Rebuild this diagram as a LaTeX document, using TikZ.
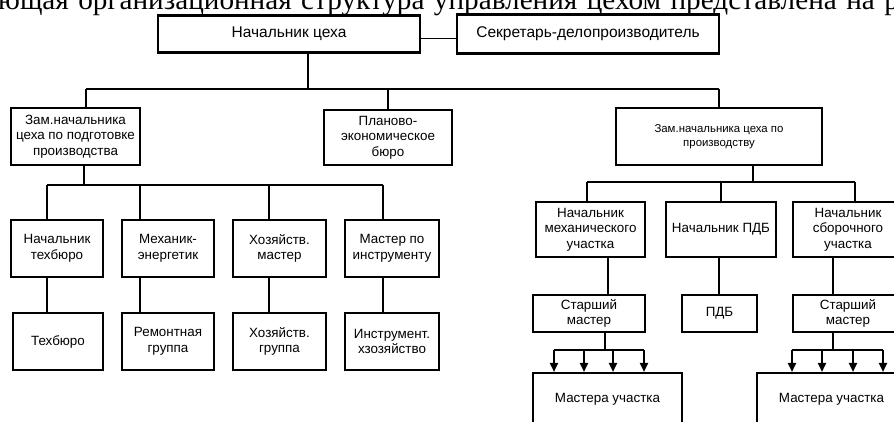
\documentclass[tikz,border=0pt]{standalone}
\usepackage{fontspec}
\setmainfont{Liberation Sans}
\newfontfamily\pagefont{Liberation Serif}
\usetikzlibrary{arrows.meta}

\begin{document}
\begin{tikzpicture}[x=1pt, y=-1pt,
  box/.style={draw, line width=2.1pt, align=center, inner sep=0pt,
    font=\fontsize{13.4}{15.5}\selectfont},
  bigbox/.style={box, font=\fontsize{15.5}{17}\selectfont},
  smallbox/.style={box, font=\fontsize{11.4}{14}\selectfont},
  link/.style={line width=1.9pt},
  down/.style={line width=1.9pt, -{Triangle[width=8pt,length=9pt]}}]
\useasboundingbox (0,0) rectangle (894,421);
\node[font=\pagefont\fontsize{29.2}{31}\selectfont, anchor=base west, inner sep=0pt] (line) at (-2,9.5) {\spaceskip=9.5pt\relax ющая организационная структура управления цехом представлена на рис};
% top level
\node[bigbox, minimum width=262pt, minimum height=37pt] (nach) at (289,34) {Начальник цеха};
\node[bigbox, minimum width=262pt, minimum height=39pt] (sekr) at (588,34) {Секретарь-делопроизводитель};
\node[box, minimum width=129pt, minimum height=57pt] (zpodg) at (75.5,136.5) {Зам.начальника\\цеха по подготовке\\производства};
\node[box, minimum width=128pt, minimum height=55pt] (plan) at (388,137.5) {Планово-\\экономическое\\бюро};
\node[smallbox, minimum width=206pt, minimum height=57pt] (zproiz) at (719,136.5) {Зам.начальника цеха по\\производству};
% left branch
\node[box, minimum width=92pt, minimum height=57pt] (ntb) at (57,248.5) {Начальник\\техбюро};
\node[box, minimum width=92pt, minimum height=57pt] (meh) at (168,248.5) {Механик-\\энергетик};
\node[box, minimum width=93pt, minimum height=57pt] (hozm) at (279.5,248.5) {Хозяйств.\\мастер};
\node[box, minimum width=94pt, minimum height=57pt] (minstr) at (392,248.5) {Мастер по\\инструменту};
\node[box, minimum width=90pt, minimum height=57pt] (tb) at (58,341.5) {Техбюро};
\node[box, minimum width=92pt, minimum height=57pt] (rem) at (168,341.5) {Ремонтная\\группа};
\node[box, minimum width=93pt, minimum height=57pt] (hozg) at (279.5,341.5) {Хозяйств.\\группа};
\node[box, minimum width=94pt, minimum height=57pt] (instr) at (392,341.5) {Инструмент.\\хзозяйство};
% right branch
\node[box, minimum width=109pt, minimum height=55pt] (nmeh) at (590.5,229.5) {Начальник\\механического\\участка};
\node[box, minimum width=110pt, minimum height=55pt] (npdb) at (721,229.5) {Начальник ПДБ};
\node[box, minimum width=110pt, minimum height=55pt] (nsb) at (848,229.5) {Начальник\\сборочного\\участка};
\node[box, minimum width=112pt, minimum height=37pt] (stm1) at (589,313.5) {Старший\\мастер};
\node[box, minimum width=75pt, minimum height=37pt] (pdb) at (719.5,313.5) {ПДБ};
\node[box, minimum width=110pt, minimum height=37pt] (stm2) at (848,313.5) {Старший\\мастер};
\node[box, minimum width=149pt, minimum height=52pt] (mast1) at (607.5,399) {Мастера участка};
\node[box, minimum width=149pt, minimum height=52pt] (mast2) at (831.5,399) {Мастера участка};
% bus points
\coordinate (t0) at (308,89);
\coordinate (t1) at (86,89);
\coordinate (t2) at (719,89);
\coordinate (u0) at (84,185);
\coordinate (u1) at (47,185);
\coordinate (u2) at (140,185);
\coordinate (u3) at (269,185);
\coordinate (u4) at (383,185);
\coordinate (v0) at (753,182);
\coordinate (v1) at (587,182);
\coordinate (v2) at (855,182);
\coordinate (w0) at (605,350);
\coordinate (w1) at (554,350);
\coordinate (w2) at (584,350);
\coordinate (w3) at (613,350);
\coordinate (w4) at (644,350);
\coordinate (z0) at (833,350);
\coordinate (z1) at (792,350);
\coordinate (z2) at (822,350);
\coordinate (z3) at (853,350);
\coordinate (z4) at (883,350);
% connectors
\draw[link] ([yshift=-4.5pt]nach.east) -- ([yshift=-4.5pt]nach.east -| sekr.west);
\draw[link] (t0 |- nach.south) -- (t0);
\draw[link] (t1) -- (t2);
\draw[link] (t1) -- (t1 |- zpodg.north);
\draw[link] (t1 -| plan.north) -- (plan.north);
\draw[link] (t2) -- (t2 |- zproiz.north);
\draw[link] (u0 |- zpodg.south) -- (u0);
\draw[link] (u1) -- (u4);
\draw[link] (u1) -- (u1 |- ntb.north);
\draw[link] (u2) -- (u2 |- meh.north);
\draw[link] (u3) -- (u3 |- hozm.north);
\draw[link] (u4) -- (u4 |- minstr.north);
\draw[link] (u1 |- ntb.south) -- (u1 |- tb.north);
\draw[link] (u2 |- meh.south) -- (u2 |- rem.north);
\draw[link] (u3 |- hozm.south) -- (u3 |- hozg.north);
\draw[link] (u4 |- minstr.south) -- (u4 |- instr.north);
\draw[link] (v0 |- zproiz.south) -- (v0);
\draw[link] (v1) -- (v2);
\draw[link] (v1) -- (v1 |- nmeh.north);
\draw[link] (v1 -| npdb.north) -- (npdb.north);
\draw[link] (v2) -- (v2 |- nsb.north);
\draw[link] ([xshift=17.5pt]nmeh.south) -- ([xshift=17.5pt]nmeh.south |- stm1.north);
\draw[link] (719,0 |- npdb.south) -- (719,0 |- pdb.north);
\draw[link] ([xshift=-15pt]nsb.south) -- ([xshift=-15pt]nsb.south |- stm2.north);
\draw[link] (w0 |- stm1.south) -- (w0);
\draw[link] (w1) -- (w4);
\draw[down] (w1) -- (w1 |- mast1.north);
\draw[down] (w2) -- (w2 |- mast1.north);
\draw[down] (w3) -- (w3 |- mast1.north);
\draw[down] (w4) -- (w4 |- mast1.north);
\draw[link] (z0 |- stm2.south) -- (z0);
\draw[link] (z1) -- (z4);
\draw[down] (z1) -- (z1 |- mast2.north);
\draw[down] (z2) -- (z2 |- mast2.north);
\draw[down] (z3) -- (z3 |- mast2.north);
\draw[down] (z4) -- (z4 |- mast2.north);
\end{tikzpicture}
\end{document}
